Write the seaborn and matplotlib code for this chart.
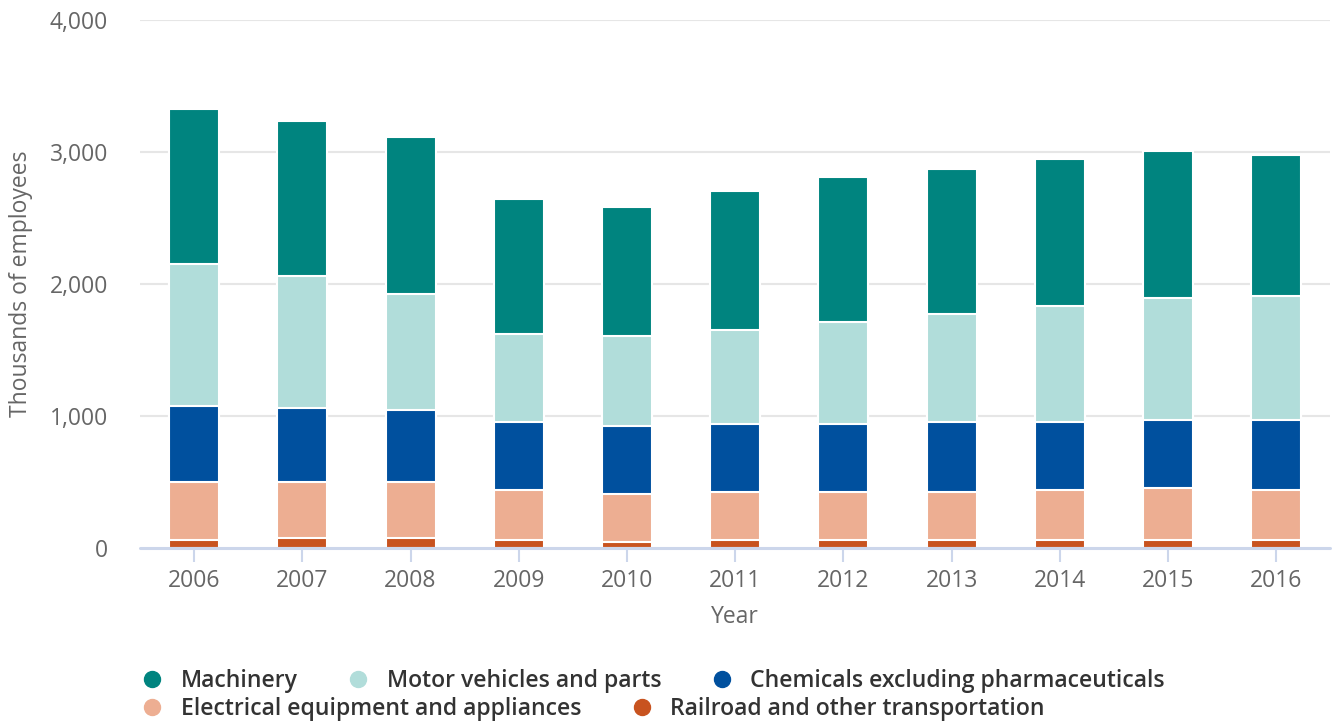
import numpy as np
import pandas as pd
import matplotlib
matplotlib.use("Agg")
import matplotlib.pyplot as plt
import seaborn as sns
from matplotlib.lines import Line2D

years = ["2006", "2007", "2008", "2009", "2010", "2011", "2012", "2013", "2014", "2015", "2016"]
railroad = [61, 76, 76, 61, 45, 61, 61, 61, 61, 61, 61]
electrical = [439, 424, 424, 378, 364, 363, 363, 363, 378, 394, 378]
chemicals = [576, 561, 545, 516, 515, 515, 515, 531, 516, 515, 531]
motor = [1076, 1000, 879, 666, 682, 713, 773, 818, 878, 924, 939]
machinery = [1174, 1174, 1190, 1023, 977, 1053, 1099, 1098, 1114, 1114, 1068]

series = ["Machinery", "Motor vehicles and parts", "Chemicals excluding pharmaceuticals",
          "Electrical equipment and appliances", "Railroad and other transportation"]
colors = ["#00847f", "#b1ddda", "#00509e", "#edae92", "#c8531f"]

sns.set_theme(style="white")
plt.rcParams["font.family"] = ["Open Sans", "DejaVu Sans"]

fig = plt.figure(figsize=(13.33, 7.22), dpi=100)
ax = fig.add_axes([0.105, 0.241, 0.893, 0.731])

# stacked from bottom: railroad, electrical, chemicals, motor, machinery
stack = [railroad, electrical, chemicals, motor, machinery]
cum = np.cumsum(np.array(stack), axis=0)
df = pd.DataFrame({"year": years})
# draw tallest first so each lower layer covers it
for i in range(len(stack) - 1, -1, -1):
    df["v"] = cum[i]
    sns.barplot(data=df, x="year", y="v", color=colors[len(stack) - 1 - i],
                width=0.462, edgecolor="white", linewidth=1.5, saturation=1, ax=ax)

ax.set_xlim(-0.5, 10.5)
ax.set_ylim(0, 4000)
ax.set_yticks([0, 1000, 2000, 3000, 4000])
ax.set_yticklabels(["0", "1,000", "2,000", "3,000", "4,000"])
for y in [1000, 2000, 3000, 4000]:
    ax.axhline(y, color="#e6e6e6", lw=1.5, zorder=0)
ax.axhline(0, color="#ccd6eb", lw=2.2, zorder=5, clip_on=False)

for s in ax.spines.values():
    s.set_visible(False)
ax.tick_params(axis="x", length=10, width=1.5, color="#ccd6eb",
               labelsize=16.5, pad=5, bottom=True, labelcolor="#666666")
ax.tick_params(axis="y", length=0, labelsize=16.5, labelcolor="#666666", pad=23)
ax.set_xlabel("Year", fontsize=16.5, color="#666666", labelpad=9)
ax.set_ylabel("Thousands of employees", fontsize=16.5, color="#666666")
ax.yaxis.set_label_coords(-0.090, 0.5)

def make_handles(idx):
    return [Line2D([0], [0], marker="o", linestyle="", markersize=11.5,
                   markerfacecolor=colors[i], markeredgecolor=colors[i]) for i in idx]

row1 = [0, 1, 2]
row2 = [3, 4]
for idx, ypos in [(row1, 0.057), (row2, 0.018)]:
    leg = fig.legend(make_handles(idx), [series[i] for i in idx], loc="center left",
                     bbox_to_anchor=(0.097, ypos), ncol=len(idx), frameon=False,
                     fontsize=16.6, handletextpad=0.25, columnspacing=1.6,
                     borderaxespad=0, borderpad=0)
    for t in leg.get_texts():
        t.set_color("#333333")
        t.set_fontweight("semibold")

fig.savefig("out.png", dpi=100)
